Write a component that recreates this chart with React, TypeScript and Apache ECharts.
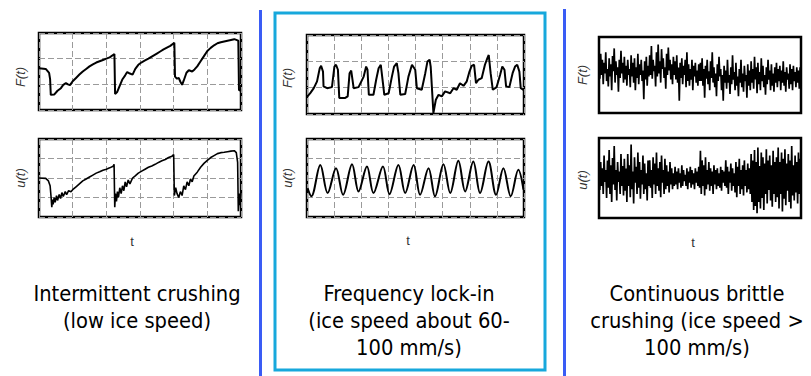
import React, { useEffect, useRef } from "react";
import * as echarts from "echarts";

// ---- Intermittent crushing (x: 0..6 grid units, y: 0..3 / 0..4) ----
const intermittentForce: [number, number][] = [
  [0, 1.63], [0.2, 1.6], [0.3, 1.45], [0.33, 1.2], [0.35, 0.59], [0.45, 0.6], [0.55, 0.75], [0.65, 0.85],
  [0.72, 0.98], [0.8, 1.05], [0.86, 1.0], [0.92, 0.97], [1.0, 1.12], [1.1, 1.25], [1.2, 1.38], [1.3, 1.5],
  [1.4, 1.6], [1.5, 1.7], [1.6, 1.78], [1.7, 1.85], [1.8, 1.9], [1.9, 1.95], [2.0, 2.0], [2.1, 2.05],
  [2.24, 2.18], [2.26, 0.62], [2.32, 0.7], [2.4, 0.95], [2.48, 1.2], [2.56, 1.35], [2.62, 1.48], [2.7, 1.42],
  [2.78, 1.38], [2.86, 1.6], [2.95, 1.76], [3.05, 1.86], [3.15, 1.93], [3.25, 2.0], [3.4, 2.12], [3.5, 2.2],
  [3.6, 2.28], [3.7, 2.36], [3.8, 2.43], [3.9, 2.5], [4.02, 2.62], [4.04, 1.3], [4.1, 1.22], [4.15, 1.25],
  [4.2, 1.1], [4.25, 0.98], [4.3, 1.15], [4.38, 1.45], [4.45, 1.55], [4.55, 1.5], [4.62, 1.58], [4.7, 1.7],
  [4.8, 1.9], [4.9, 2.1], [5.0, 2.3], [5.1, 2.42], [5.2, 2.52], [5.3, 2.6], [5.4, 2.64], [5.5, 2.67],
  [5.6, 2.7], [5.7, 2.73], [5.8, 2.76], [5.88, 2.72], [5.92, 2.7], [5.94, 0.78], [6.0, 0.75],
];
const intermittentDisp: [number, number][] = [
  [0, 2.0], [0.2, 1.98], [0.28, 1.85], [0.33, 1.6], [0.36, 1.0], [0.38, 0.5], [0.4, 0.9], [0.42, 0.65],
  [0.45, 1.0], [0.48, 0.75], [0.52, 1.1], [0.55, 0.85], [0.6, 1.15], [0.64, 0.95], [0.68, 1.25], [0.72, 1.05],
  [0.78, 1.3], [0.82, 1.15], [0.88, 1.35], [0.95, 1.3], [1.0, 1.4], [1.1, 1.55], [1.2, 1.7], [1.3, 1.85],
  [1.4, 1.95], [1.5, 2.05], [1.6, 2.15], [1.7, 2.25], [1.8, 2.32], [1.9, 2.4], [2.0, 2.45], [2.1, 2.52],
  [2.2, 2.6], [2.23, 2.7], [2.25, 0.5], [2.27, 1.2], [2.3, 0.8], [2.33, 1.3], [2.36, 1.0], [2.4, 1.5],
  [2.44, 1.2], [2.48, 1.6], [2.52, 1.35], [2.56, 1.8], [2.6, 1.55], [2.65, 1.9], [2.7, 1.7], [2.78, 2.0],
  [2.85, 2.1], [2.95, 2.25], [3.05, 2.35], [3.15, 2.45], [3.25, 2.55], [3.35, 2.62], [3.45, 2.7], [3.55, 2.8],
  [3.65, 2.88], [3.75, 2.95], [3.85, 3.05], [3.95, 3.12], [4.0, 3.2], [4.02, 1.1], [4.06, 1.5], [4.1, 1.2],
  [4.15, 1.0], [4.2, 1.3], [4.25, 1.1], [4.3, 1.6], [4.35, 1.4], [4.4, 1.8], [4.45, 1.6], [4.5, 1.95],
  [4.55, 1.8], [4.6, 2.1], [4.7, 2.3], [4.8, 2.55], [4.9, 2.75], [5.0, 2.9], [5.1, 3.05], [5.2, 3.15],
  [5.3, 3.25], [5.4, 3.3], [5.5, 3.32], [5.6, 3.35], [5.7, 3.38], [5.8, 3.4], [5.86, 3.3], [5.9, 2.8],
  [5.92, 0.3], [5.95, 1.2], [5.97, 0.6], [6.0, 1.3],
];

// ---- Frequency lock-in (x: 0..8 grid units) ----
const lockInForce: [number, number][] = [
  [0.02, 0.67], [0.12, 0.79], [0.25, 0.98], [0.37, 1.24], [0.47, 1.74], [0.52, 1.83], [0.59, 1.61], [0.61, 1.05],
  [0.74, 0.98], [0.92, 1.02], [1.01, 1.8], [1.07, 1.87], [1.14, 1.68], [1.19, 0.61], [1.41, 0.61], [1.5, 0.67],
  [1.57, 1.55], [1.63, 1.65], [1.72, 0.98], [1.9, 1.02], [2.09, 1.42], [2.18, 1.8], [2.23, 1.68], [2.28, 0.73],
  [2.45, 0.73], [2.55, 1.3], [2.64, 1.74], [2.72, 1.87], [2.8, 1.17], [2.85, 0.73], [3.01, 0.79], [3.13, 1.42],
  [3.21, 1.8], [3.31, 1.93], [3.37, 1.55], [3.44, 0.73], [3.62, 0.76], [3.74, 1.42], [3.87, 1.87], [3.99, 1.68],
  [4.05, 0.98], [4.23, 0.92], [4.36, 1.55], [4.44, 1.99], [4.52, 2.06], [4.56, 1.8], [4.66, 0.04], [4.75, 0.54],
  [4.85, 0.73], [4.97, 0.67], [5.09, 0.86], [5.28, 0.79], [5.4, 0.98], [5.52, 0.92], [5.64, 1.17], [5.77, 1.07],
  [5.89, 1.24], [5.99, 1.61], [6.07, 1.83], [6.16, 1.87], [6.23, 1.17], [6.32, 1.3], [6.44, 1.36], [6.56, 1.87],
  [6.65, 2.12], [6.7, 2.24], [6.77, 1.55], [6.85, 0.92], [6.99, 1.02], [7.12, 1.49], [7.2, 1.8], [7.28, 1.68],
  [7.34, 1.05], [7.46, 1.02], [7.58, 1.55], [7.67, 1.8], [7.75, 1.87], [7.83, 1.61], [7.88, 0.98], [7.98, 0.92],
];
const lockInDisp: [number, number][] = [
  [0.02, 1.48], [0.16, 1.06], [0.49, 2.67], [0.76, 1.23], [1.07, 2.5], [1.33, 1.14], [1.66, 2.71], [1.9, 1.31],
  [2.21, 2.59], [2.45, 1.23], [2.8, 2.59], [3.04, 1.17], [3.37, 2.67], [3.62, 1.23], [3.93, 2.67], [4.17, 1.14],
  [4.48, 2.5], [4.72, 1.06], [5.03, 2.71], [5.28, 1.23], [5.58, 2.88], [5.83, 1.31], [6.13, 2.84], [6.38, 1.23],
  [6.69, 2.84], [6.97, 1.14], [7.24, 2.5], [7.51, 1.06], [7.79, 2.42], [7.98, 1.4],
];

// ---- Continuous brittle crushing (normalised 0..1, evenly sampled) ----
const brittleForce: number[] = [
  0.62, 0.45, 0.78, 0.5, 0.7, 0.38, 0.66, 0.52, 0.8, 0.42, 0.58, 0.35, 0.72, 0.48, 0.64, 0.3, 0.75, 0.55, 0.85, 0.4, 0.68, 0.5, 0.6, 0.28, 0.7, 0.46, 0.82, 0.52, 0.66, 0.4,
  0.74, 0.44, 0.62, 0.36, 0.7, 0.5, 0.58, 0.34, 0.76, 0.48, 0.66, 0.4, 0.72, 0.3, 0.6, 0.46, 0.78, 0.38, 0.64, 0.5, 0.7, 0.42, 0.56, 0.18, 0.68, 0.44, 0.74, 0.36, 0.62, 0.48,
  0.76, 0.5, 0.88, 0.45, 0.7, 0.55, 0.62, 0.35, 0.8, 0.48, 0.9, 0.52, 0.68, 0.4, 0.84, 0.58, 0.72, 0.46, 0.6, 0.32, 0.78, 0.5, 0.86, 0.56, 0.7, 0.44, 0.64, 0.38, 0.74, 0.5,
  0.68, 0.44, 0.76, 0.4, 0.6, 0.16, 0.66, 0.46, 0.72, 0.38, 0.62, 0.5, 0.7, 0.34, 0.8, 0.42, 0.64, 0.36, 0.58, 0.44, 0.7, 0.3, 0.62, 0.48, 0.66, 0.4, 0.56, 0.36, 0.64, 0.42,
  0.66, 0.42, 0.72, 0.36, 0.58, 0.2, 0.62, 0.45, 0.7, 0.38, 0.55, 0.3, 0.68, 0.46, 0.8, 0.4, 0.6, 0.34, 0.52, 0.22, 0.64, 0.42, 0.74, 0.48, 0.58, 0.3, 0.5, 0.16, 0.62, 0.4,
  0.56, 0.32, 0.7, 0.4, 0.5, 0.25, 0.6, 0.38, 0.76, 0.44, 0.54, 0.3, 0.66, 0.36, 0.48, 0.22, 0.58, 0.4, 0.7, 0.34, 0.52, 0.28, 0.62, 0.42, 0.5, 0.2, 0.64, 0.36, 0.56, 0.3,
  0.68, 0.4, 0.58, 0.32, 0.74, 0.44, 0.6, 0.26, 0.66, 0.38, 0.54, 0.3, 0.72, 0.42, 0.62, 0.34, 0.5, 0.24, 0.6, 0.38, 0.7, 0.44, 0.56, 0.3, 0.64, 0.36, 0.52, 0.28, 0.6, 0.4,
  0.66, 0.34, 0.58, 0.42, 0.62, 0.3, 0.56, 0.4, 0.68, 0.36, 0.54, 0.28, 0.6, 0.44, 0.52, 0.32, 0.64, 0.38, 0.58, 0.3, 0.62, 0.42, 0.54, 0.34, 0.6, 0.4, 0.56, 0.32, 0.6, 0.36,
];
const brittleDisp: number[] = [
  0.55, 0.35, 0.7, 0.4, 0.62, 0.3, 0.78, 0.45, 0.6, 0.25, 0.72, 0.38, 0.85, 0.3, 0.66, 0.2, 0.75, 0.42, 0.9, 0.35, 0.6, 0.22, 0.7, 0.45, 0.58, 0.3, 0.8, 0.4, 0.65, 0.28,
  0.74, 0.34, 0.62, 0.2, 0.8, 0.4, 0.66, 0.26, 0.92, 0.36, 0.58, 0.18, 0.76, 0.44, 0.64, 0.3, 0.82, 0.38, 0.7, 0.24, 0.6, 0.42, 0.78, 0.3, 0.68, 0.36, 0.56, 0.22, 0.72, 0.4,
  0.72, 0.38, 0.6, 0.25, 0.76, 0.42, 0.68, 0.3, 0.82, 0.4, 0.62, 0.34, 0.7, 0.26, 0.78, 0.44, 0.6, 0.3, 0.74, 0.36, 0.66, 0.4, 0.58, 0.32, 0.7, 0.42, 0.62, 0.36, 0.56, 0.4,
  0.64, 0.42, 0.58, 0.36, 0.62, 0.44, 0.56, 0.38, 0.66, 0.4, 0.6, 0.46, 0.54, 0.4, 0.62, 0.36, 0.58, 0.44, 0.64, 0.38, 0.6, 0.42, 0.56, 0.36, 0.62, 0.44, 0.58, 0.4, 0.64, 0.38,
  0.84, 0.3, 0.72, 0.4, 0.66, 0.28, 0.76, 0.36, 0.6, 0.42, 0.7, 0.34, 0.62, 0.4, 0.58, 0.3, 0.66, 0.42, 0.6, 0.36, 0.62, 0.4, 0.56, 0.38, 0.64, 0.34, 0.6, 0.44, 0.58, 0.4,
  0.72, 0.38, 0.64, 0.3, 0.58, 0.44, 0.68, 0.34, 0.62, 0.4, 0.56, 0.32, 0.7, 0.26, 0.64, 0.4, 0.74, 0.3, 0.6, 0.36, 0.66, 0.28, 0.72, 0.4, 0.6, 0.32, 0.68, 0.36, 0.62, 0.3,
  0.8, 0.2, 0.72, 0.1, 0.85, 0.15, 0.7, 0.06, 0.88, 0.2, 0.65, 0.12, 0.82, 0.25, 0.76, 0.1, 0.68, 0.3, 0.86, 0.18, 0.72, 0.35, 0.78, 0.22, 0.66, 0.14, 0.84, 0.3, 0.7, 0.2,
  0.76, 0.26, 0.88, 0.12, 0.7, 0.3, 0.82, 0.08, 0.74, 0.24, 0.86, 0.16, 0.68, 0.34, 0.8, 0.2, 0.72, 0.12, 0.9, 0.28, 0.66, 0.22, 0.78, 0.32, 0.7, 0.18, 0.82, 0.3, 0.74, 0.4,
];

const panelTitles: string[] = [
  "Intermittent crushing\n(low ice speed)",
  "Frequency lock-in\n(ice speed about 60-\n100 mm/s)",
  "Continuous brittle\ncrushing (ice speed >\n100 mm/s)",
];
const forceLabel = "F(t)";
const dispLabel = "u(t)";
const timeLabel = "t";

const TITLE_FONT = "'DejaVu Sans Condensed', 'Liberation Sans Narrow', 'DejaVu Sans', sans-serif";
const AXIS_FONT = "'Liberation Sans', Arial, sans-serif";

export default function App() {
  const ref = useRef<HTMLDivElement>(null);

  useEffect(() => {
    if (!ref.current) return;
    const chart = echarts.init(ref.current, undefined, { renderer: "svg" });

    const grids = [
      { left: 39, top: 33, width: 202, height: 77 },
      { left: 39, top: 139, width: 202, height: 78 },
      { left: 307, top: 35, width: 217, height: 79 },
      { left: 307, top: 139, width: 217, height: 78 },
      { left: 599, top: 37, width: 202, height: 76 },
      { left: 599, top: 138, width: 202, height: 80 },
    ].map((g) => ({ ...g, show: true, borderColor: "#000", borderWidth: 2.5, backgroundColor: "transparent" }));

    const split = { show: true, lineStyle: { color: "#9a9a9a", width: 1, type: [6, 3] as number[] } };
    const noSplit = { show: false };
    const mkAxis = (gridIndex: number, min: number, max: number, interval: number, showSplit: boolean) => ({
      type: "value" as const,
      gridIndex,
      min,
      max,
      interval,
      axisLine: { show: false },
      axisTick: { show: false },
      axisLabel: { show: false },
      splitLine: showSplit ? split : noSplit,
    });

    const xAxis = [
      mkAxis(0, 0, 6, 1, true),
      mkAxis(1, 0, 6, 1, true),
      mkAxis(2, 0, 8, 1, true),
      mkAxis(3, 0, 8, 1, true),
      mkAxis(4, 0, brittleForce.length - 1, brittleForce.length - 1, false),
      mkAxis(5, 0, brittleDisp.length - 1, brittleDisp.length - 1, false),
    ];
    const yAxis = [
      mkAxis(0, 0, 3, 1, true),
      mkAxis(1, 0, 4, 1, true),
      mkAxis(2, 0, 3, 1, true),
      mkAxis(3, 0, 4, 1, true),
      mkAxis(4, 0, 1, 1, false),
      mkAxis(5, 0, 1, 1, false),
    ];

    const line = (idx: number, data: [number, number][], width: number, smooth: boolean | number = false) => ({
      type: "line" as const,
      xAxisIndex: idx,
      yAxisIndex: idx,
      data,
      showSymbol: false,
      smooth,
      lineStyle: { color: "#000", width },
      silent: true,
      z: 3,
    });

    const series = [
      line(0, intermittentForce, 2),
      line(1, intermittentDisp, 1.6),
      line(2, lockInForce, 2),
      line(3, lockInDisp, 2, 0.35),
      line(4, brittleForce.map((v, i) => [i, v] as [number, number]), 1.7),
      line(5, brittleDisp.map((v, i) => [i, v] as [number, number]), 1.7),
    ];

    const axisText = (x: number, y: number, text: string, rotated: boolean) => ({
      type: "text" as const,
      x,
      y,
      rotation: rotated ? Math.PI / 2 : 0,
      silent: true,
      style: {
        text,
        fill: "#333",
        fontSize: 13,
        fontFamily: AXIS_FONT,
        fontStyle: rotated ? "italic" : "normal",
        align: "center",
        verticalAlign: "middle",
      },
    });

    const titleText = (x: number, y: number, text: string) => ({
      type: "text" as const,
      x,
      y,
      silent: true,
      style: {
        text,
        fill: "#000",
        fontSize: 21.7,
        lineHeight: 27,
        fontFamily: TITLE_FONT,
        align: "center",
        verticalAlign: "top",
      },
    });

    const graphic = [
      { type: "line", silent: true, shape: { x1: 260.5, y1: 10, x2: 260.5, y2: 376 }, style: { stroke: "#3a5cf5", lineWidth: 3 } },
      { type: "line", silent: true, shape: { x1: 564.5, y1: 9, x2: 564.5, y2: 376 }, style: { stroke: "#3a5cf5", lineWidth: 3 } },
      { type: "rect", silent: true, shape: { x: 275, y: 13, width: 270, height: 357 }, style: { fill: "none", stroke: "#17a8dc", lineWidth: 3 } },
      axisText(20, 77, forceLabel, true),
      axisText(20, 178, dispLabel, true),
      axisText(132, 241, timeLabel, false),
      axisText(287, 78, forceLabel, true),
      axisText(287, 178, dispLabel, true),
      axisText(408, 240, timeLabel, false),
      axisText(582, 75, forceLabel, true),
      axisText(582, 180, dispLabel, true),
      axisText(693, 242, timeLabel, false),
      titleText(137, 280, panelTitles[0]),
      titleText(409, 280, panelTitles[1]),
      titleText(697, 280, panelTitles[2]),
    ];

    chart.setOption({
      animation: false,
      backgroundColor: "#fff",
      grid: grids,
      xAxis,
      yAxis,
      series,
      graphic,
    });

    return () => chart.dispose();
  }, []);

  return <div ref={ref} style={{ position: "absolute", left: 0, top: 0, width: 811, height: 376 }} />;
}
